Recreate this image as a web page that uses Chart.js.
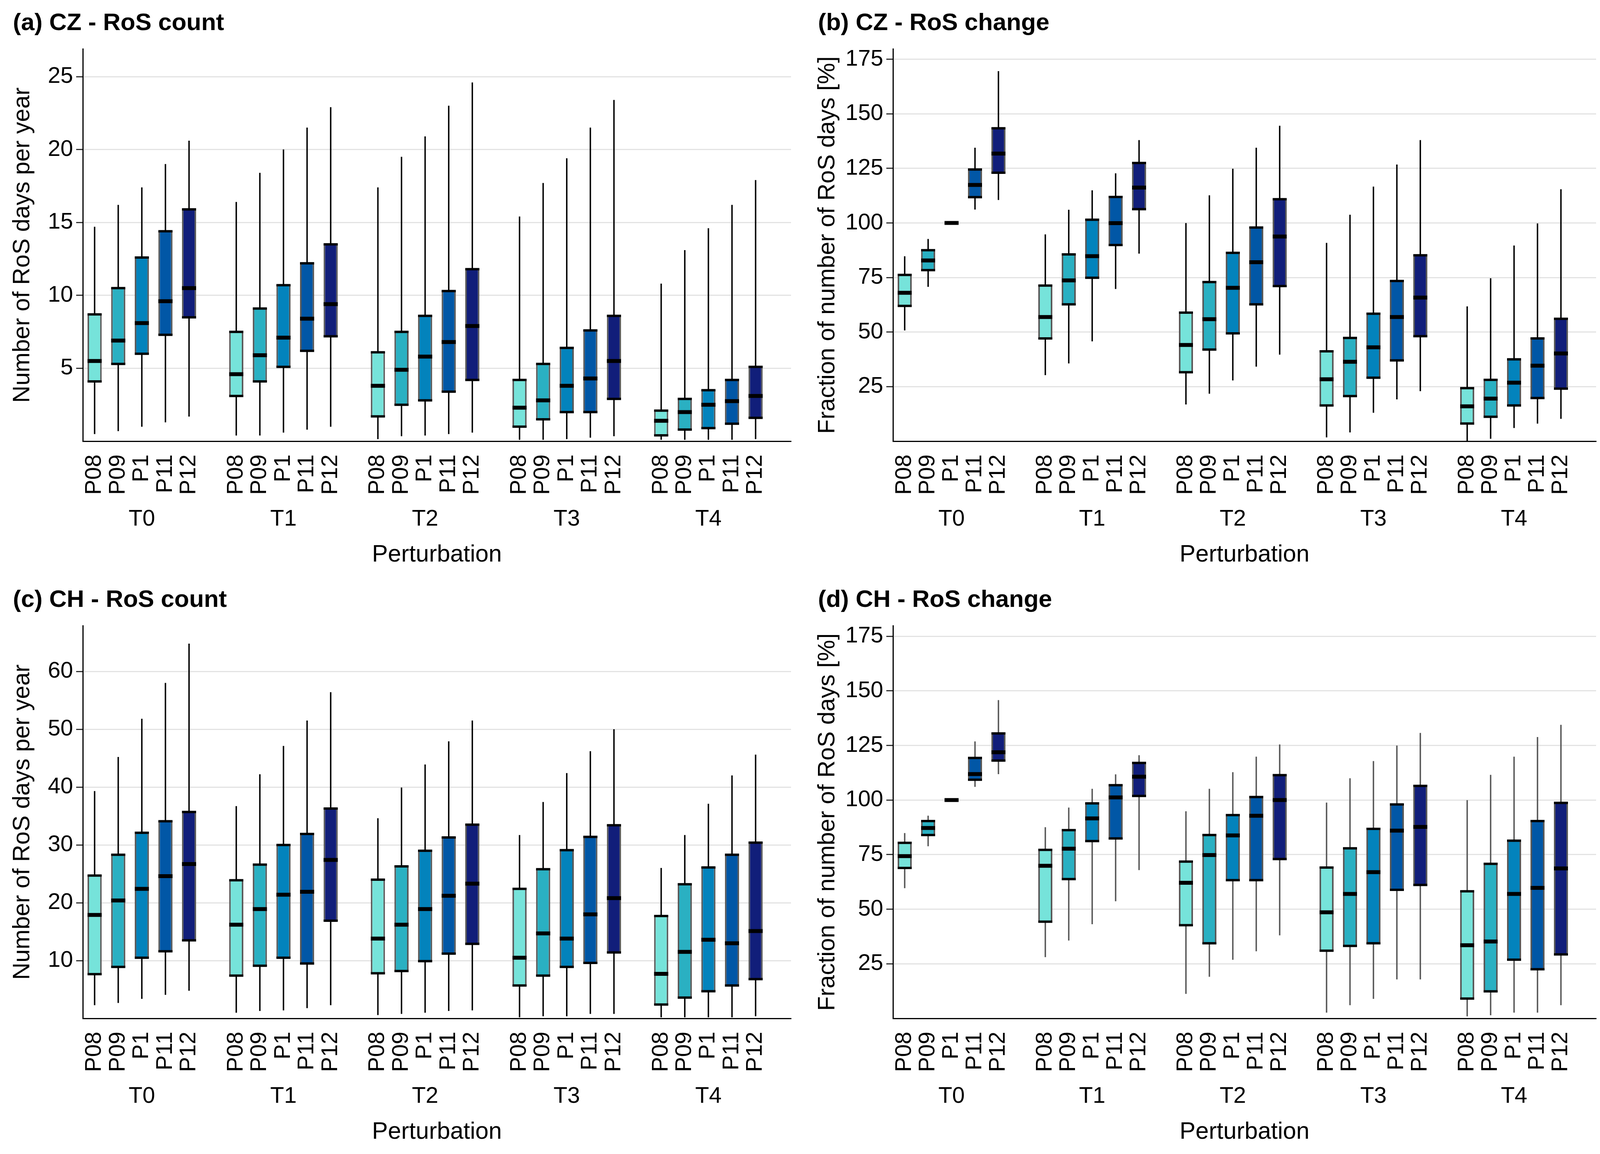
<!DOCTYPE html>
<html>
<head>
<meta charset="utf-8">
<title>RoS boxplots</title>
<script src="https://cdn.jsdelivr.net/npm/chart.js@4.4.1/dist/chart.umd.min.js"></script>
<style>
  html, body { margin: 0; padding: 0; background: #fff; }
  body { width: 4122px; height: 2953px; position: relative; overflow: hidden; }
  canvas { position: absolute; }
</style>
</head>
<body>
<canvas id="czCount" width="2061" height="1476" style="left:0px;top:0px"></canvas>
<canvas id="czChange" width="2061" height="1476" style="left:2061px;top:0px"></canvas>
<canvas id="chCount" width="2061" height="1477" style="left:0px;top:1476px"></canvas>
<canvas id="chChange" width="2061" height="1477" style="left:2061px;top:1476px"></canvas>
<script>
const groups = ['T0', 'T1', 'T2', 'T3', 'T4'];
const perturbations = ['P08', 'P09', 'P1', 'P11', 'P12'];
const boxColors = ['#76e3da', '#2ab0c2', '#0383bc', '#0157a6', '#111e7a'];

// tick labels of the y axes
const czCountTicks = [5, 10, 15, 20, 25];
const chCountTicks = [10, 20, 30, 40, 50, 60];
const changeTicks = [25, 50, 75, 100, 125, 150, 175];

// box stats, ordered T0..T4, inside each period P08, P09, P1, P11, P12
// (a) CZ - RoS count
const czCountMin = [0.5, 0.7, 1.0, 1.3, 1.7,  0.4, 0.4, 0.6, 0.8, 1.0,  0.15, 0.35, 0.4, 0.5, 0.6,  0.1, 0.1, 0.15, 0.25, 0.35,  0.1, 0.1, 0.1, 0.1, 0.15];
const czCountQ1 = [4.1, 5.3, 6.0, 7.3, 8.5,  3.1, 4.1, 5.1, 6.2, 7.2,  1.7, 2.5, 2.8, 3.4, 4.2,  1.0, 1.5, 2.0, 2.0, 2.9,  0.4, 0.8, 0.9, 1.2, 1.6];
const czCountMed = [5.5, 6.9, 8.1, 9.6, 10.5,  4.6, 5.9, 7.1, 8.4, 9.4,  3.8, 4.9, 5.8, 6.8, 7.9,  2.3, 2.8, 3.8, 4.3, 5.5,  1.4, 2.0, 2.5, 2.75, 3.1];
const czCountQ3 = [8.7, 10.5, 12.6, 14.4, 15.9,  7.5, 9.1, 10.7, 12.2, 13.5,  6.1, 7.5, 8.6, 10.3, 11.8,  4.2, 5.3, 6.4, 7.6, 8.6,  2.1, 2.9, 3.5, 4.2, 5.1];
const czCountMax = [14.7, 16.2, 17.4, 19.0, 20.6,  16.4, 18.4, 20.0, 21.5, 22.9,  17.4, 19.5, 20.9, 23.0, 24.6,  15.4, 17.7, 19.4, 21.5, 23.4,  10.8, 13.1, 14.6, 16.2, 17.9];

// (b) CZ - RoS change
const czChangeMin = [50.8, 70.8, 100, 106.2, 110.6,  30.3, 35.7, 45.8, 69.8, 86.0,  16.9, 21.8, 27.9, 34.2, 39.7,  1.8, 4.1, 13.1, 19.2, 23.0,  0.0, 1.2, 6.1, 8.1, 10.3];
const czChangeQ1 = [62.0, 78.4, 100, 111.8, 123.0,  47.1, 62.7, 74.9, 89.9, 106.3,  31.6, 42.0, 49.4, 62.7, 71.1,  16.4, 20.7, 29.1, 37.0, 48.1,  8.1, 11.2, 16.4, 19.8, 24.1];
const czChangeMed = [68.0, 82.8, 100, 117.4, 131.8,  56.9, 73.7, 84.8, 99.9, 116.2,  44.1, 55.9, 70.3, 82.0, 93.8,  28.4, 36.4, 43.0, 56.9, 65.8,  16.0, 19.5, 26.8, 34.6, 40.2];
const czChangeQ3 = [76.2, 87.5, 100, 124.5, 143.4,  71.3, 85.6, 101.5, 111.9, 127.5,  58.9, 72.9, 86.3, 97.9, 110.9,  41.2, 47.3, 58.4, 73.4, 85.2,  24.3, 28.1, 37.5, 47.1, 56.1];
const czChangeMax = [84.7, 92.6, 100, 134.4, 169.5,  94.7, 106.0, 114.9, 122.7, 137.9,  99.9, 112.6, 124.8, 134.4, 144.5,  90.8, 103.7, 116.6, 126.7, 137.9,  61.7, 74.6, 89.6, 99.7, 115.4];

// (c) CH - RoS count
const chCountMin = [2.3, 2.7, 3.4, 4.1, 4.8,  1.0, 1.3, 1.4, 1.8, 2.3,  0.6, 0.8, 1.0, 1.3, 1.4,  0.2, 0.4, 0.4, 0.8, 0.8,  0.2, 0.2, 0.2, 0.2, 0.4];
const chCountQ1 = [7.65, 8.9, 10.5, 11.6, 13.5,  7.4, 9.1, 10.5, 9.5, 16.9,  7.8, 8.2, 9.9, 11.2, 12.9,  5.7, 7.4, 8.9, 9.6, 11.4,  2.4, 3.6, 4.7, 5.7, 6.8];
const chCountMed = [17.9, 20.4, 22.4, 24.6, 26.7,  16.2, 18.9, 21.4, 21.9, 27.4,  13.8, 16.2, 18.9, 21.2, 23.3,  10.5, 14.7, 13.8, 18.0, 20.8,  7.7, 11.5, 13.6, 13.0, 15.1];
const chCountQ3 = [24.7, 28.3, 32.1, 34.1, 35.7,  23.9, 26.6, 30.0, 31.9, 36.3,  24.0, 26.3, 29.0, 31.3, 33.5,  22.4, 25.8, 29.1, 31.4, 33.4,  17.7, 23.2, 26.1, 28.3, 30.4];
const chCountMax = [39.3, 45.2, 51.8, 58.0, 64.8,  36.7, 42.2, 47.1, 51.5, 56.4,  34.6, 39.9, 43.9, 47.9, 51.5,  31.7, 37.4, 42.4, 46.2, 50.0,  26.0, 31.7, 37.1, 42.0, 45.6];

// (d) CH - RoS change
const chChangeMin = [59.7, 78.9, 100, 106.1, 111.9,  28.1, 35.7, 43.2, 53.7, 68.0,  11.3, 19.1, 26.9, 30.8, 38.1,  2.7, 6.1, 9.0, 17.9, 17.9,  1.0, 1.5, 2.7, 2.7, 6.1];
const chChangeQ1 = [68.9, 84.0, 100, 109.3, 118.1,  44.3, 63.8, 81.2, 82.4, 101.9,  42.7, 34.4, 63.3, 63.3, 73.0,  31.0, 33.2, 34.4, 58.9, 61.1,  9.1, 12.4, 26.9, 22.5, 29.3];
const chChangeMed = [74.3, 87.2, 100, 111.9, 121.9,  69.9, 77.7, 91.6, 101.2, 110.7,  62.1, 74.8, 83.8, 92.8, 100.0,  48.6, 57.0, 67.0, 86.0, 87.7,  33.5, 35.2, 57.0, 59.8, 68.7];
const chChangeQ3 = [80.4, 90.4, 100, 119.3, 130.5,  77.2, 86.2, 98.5, 106.8, 117.0,  71.8, 84.0, 93.1, 101.4, 111.4,  69.1, 77.9, 86.8, 98.0, 106.5,  58.2, 70.8, 81.4, 90.4, 98.7];
const chChangeMax = [84.8, 92.8, 100, 126.8, 145.7,  87.5, 96.5, 105.1, 111.7, 120.5,  94.8, 105.1, 112.7, 119.8, 125.4,  98.8, 109.9, 117.8, 124.9, 130.7,  99.9, 111.5, 119.8, 128.8, 134.4];

const FONT = "'Liberation Sans', Arial, sans-serif";
Chart.defaults.font.family = FONT;
Chart.defaults.color = '#000';

// 5 boxes per period, then one empty slot
const slotLabels = [];
const periodLabels = [];
groups.forEach(g => {
  perturbations.forEach((p, j) => {
    slotLabels.push(p);
    periodLabels.push(j === 2 ? g : '');
  });
  slotLabels.push('');
  periodLabels.push('');
});

function padSlots(values) {
  const out = [];
  values.forEach((v, i) => {
    out.push(v);
    if (i % 5 === 4) out.push(null);
  });
  return out;
}

// x axes should not push the plot area in from the sides
function fixHeight(h) {
  return s => {
    s.height = h;
    s.paddingLeft = 0;
    s.paddingRight = 0;
  };
}

// box edges and median as thick black lines
const boxLines = {
  id: 'boxLines',
  afterDatasetsDraw(chart) {
    const meta = chart.getDatasetMeta(0);
    const medians = chart.data.datasets[0].medians;
    const yScale = chart.scales.y;
    const ctx = chart.ctx;
    ctx.save();
    ctx.strokeStyle = '#000';
    meta.data.forEach((bar, i) => {
      if (medians[i] == null) return;
      const half = bar.width / 2;
      [[bar.y, 6], [bar.base, 6], [yScale.getPixelForValue(medians[i]), 10]].forEach(([y, w]) => {
        ctx.lineWidth = w;
        ctx.beginPath();
        ctx.moveTo(bar.x - half, y);
        ctx.lineTo(bar.x + half, y);
        ctx.stroke();
      });
    });
    ctx.restore();
  }
};

function makePanel(id, title, yTitle, yMax, yTicks, yWidth, whiskerColor, mins, q1s, meds, q3s, maxs) {
  new Chart(document.getElementById(id), {
    type: 'bar',
    data: {
      labels: slotLabels,
      datasets: [{
        data: padSlots(q1s.map((v, i) => [v, q3s[i]])),
        medians: padSlots(meds),
        backgroundColor: padSlots(q1s.map((v, i) => boxColors[i % 5])),
        borderColor: '#595959',
        borderWidth: { left: 4, right: 4, top: 0, bottom: 0 },
        borderSkipped: false,
        barPercentage: 0.6,
        categoryPercentage: 1,
        grouped: false,
        order: 1
      }, {
        data: padSlots(mins.map((v, i) => [v, maxs[i]])),
        backgroundColor: whiskerColor,
        barThickness: 3,
        grouped: false,
        order: 2
      }]
    },
    options: {
      responsive: false,
      animation: false,
      devicePixelRatio: 1,
      layout: { padding: { left: 33, right: 36, top: 0, bottom: 0 } },
      plugins: {
        legend: { display: false },
        tooltip: { enabled: false },
        title: {
          display: true,
          text: title,
          align: 'start',
          color: '#000',
          font: { size: 62, weight: 'bold', lineHeight: 1.2 },
          padding: { top: 23, bottom: 28 }
        }
      },
      scales: {
        x: {
          offset: true,
          grid: { display: false, drawTicks: false },
          border: { color: '#000', width: 3 },
          ticks: { autoSkip: false, minRotation: 90, maxRotation: 90, padding: 34, color: '#000', font: { size: 58 } },
          afterFit: fixHeight(150)
        },
        x2: {
          type: 'category',
          position: 'bottom',
          labels: periodLabels,
          offset: true,
          grid: { display: false, drawTicks: false },
          border: { display: false },
          ticks: { autoSkip: false, maxRotation: 0, padding: 15, color: '#000', font: { size: 58 } },
          title: { display: true, text: 'Perturbation', color: '#000', font: { size: 61, lineHeight: 1.2 }, padding: { top: 0, bottom: 19 } },
          afterFit: fixHeight(197)
        },
        y: {
          min: 0,
          max: yMax,
          afterBuildTicks: s => { s.ticks = yTicks.map(v => ({ value: v })); },
          afterFit: s => { s.width = yWidth; s.paddingTop = 0; s.paddingBottom = 0; },
          grid: { color: '#e3e3e3', lineWidth: 3, tickColor: '#333', tickWidth: 3, tickLength: 17 },
          border: { color: '#000', width: 3 },
          ticks: { padding: 8, color: '#000', font: { size: 58 } },
          title: { display: true, text: yTitle, color: '#000', font: { size: 61, lineHeight: 1 }, padding: { top: -5.5, bottom: 0 } }
        }
      }
    },
    plugins: [boxLines]
  });
}

makePanel('czCount', '(a) CZ - RoS count', 'Number of RoS days per year', 26.9, czCountTicks, 179, '#000',
  czCountMin, czCountQ1, czCountMed, czCountQ3, czCountMax);
makePanel('czChange', '(b) CZ - RoS change', 'Fraction of number of RoS days [%]', 179.7, changeTicks, 192, '#000',
  czChangeMin, czChangeQ1, czChangeMed, czChangeQ3, czChangeMax);
makePanel('chCount', '(c) CH - RoS count', 'Number of RoS days per year', 67.9, chCountTicks, 179, '#000',
  chCountMin, chCountQ1, chCountMed, chCountQ3, chCountMax);
makePanel('chChange', '(d) CH - RoS change', 'Fraction of number of RoS days [%]', 179.8, changeTicks, 192, '#595959',
  chChangeMin, chChangeQ1, chChangeMed, chChangeQ3, chChangeMax);
</script>
</body>
</html>
